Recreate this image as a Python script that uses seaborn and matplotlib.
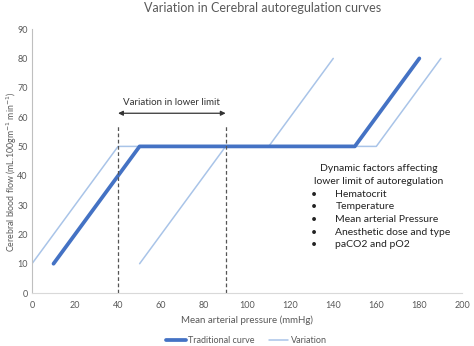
import matplotlib
matplotlib.use("Agg")
import matplotlib.pyplot as plt
import seaborn as sns
import pandas as pd
from matplotlib.lines import Line2D

# Data
trad_x = [10, 50, 150, 180]
trad_y = [10, 50, 50, 80]
var1_x = [0, 40, 110, 140]
var1_y = [10, 50, 50, 80]
var2_x = [50, 90, 160, 190]
var2_y = [10, 50, 50, 80]
limit_x = [40, 90]
x_ticks = list(range(0, 201, 20))
y_ticks = list(range(0, 91, 10))
factors = ["Hematocrit", "Temperature", "Mean arterial Pressure",
           "Anesthetic dose and type", "paCO2 and pO2"]

sns.set_theme(style="white")
plt.rcParams["font.family"] = ["Lato", "DejaVu Sans"]

TXT = "#595959"
TRAD = "#4472C4"
VAR = "#A9C4E8"

var_df = pd.DataFrame({
    "x": var1_x + var2_x,
    "y": var1_y + var2_y,
    "g": ["a"] * len(var1_x) + ["b"] * len(var2_x),
})
trad_df = pd.DataFrame({"x": trad_x, "y": trad_y})

fig = plt.figure(figsize=(4.74, 3.46), dpi=100)
ax = fig.add_axes([0.0675, 0.153, 0.908, 0.763])

sns.lineplot(data=var_df, x="x", y="y", units="g", estimator=None, sort=False,
             color=VAR, linewidth=1.1, ax=ax, legend=False)
sns.lineplot(data=trad_df, x="x", y="y", estimator=None, sort=False,
             color=TRAD, linewidth=2.7, ax=ax, legend=False)

for lx in limit_x:
    ax.plot([lx, lx], [0, 57], color="#555555", linestyle=(0, (3, 2)), linewidth=0.9)

ax.annotate("", xy=(limit_x[0], 61.3), xytext=(limit_x[1], 61.3),
            arrowprops=dict(arrowstyle="<|-|>", color="#333333", lw=0.9,
                            mutation_scale=7, shrinkA=0, shrinkB=0))
ax.text(65, 65, "Variation in lower limit", ha="center", va="center",
        fontsize=7, color="#333333")

ax.text(161, 42.3, "Dynamic factors affecting", ha="center", va="center",
        fontsize=7.5, color="#222222")
ax.text(161, 38.0, "lower limit of autoregulation", ha="center", va="center",
        fontsize=7.5, color="#222222")
for i, f in enumerate(factors):
    yy = 33.7 - 4.3 * i
    ax.text(131, yy, "\u2022", ha="center", va="center", fontsize=7.5, color="#222222")
    ax.text(141, yy, f, ha="left", va="center", fontsize=7.5, color="#222222")

ax.set_xlim(0, 200)
ax.set_ylim(0, 90)
ax.set_xticks(x_ticks)
ax.set_yticks(y_ticks)
ax.tick_params(axis="x", length=0, labelsize=6.5, labelcolor=TXT, pad=6)
ax.tick_params(axis="y", length=0, labelsize=6.5, labelcolor=TXT, pad=3)
ax.set_xlabel("Mean arterial pressure (mmHg)", fontsize=7, color=TXT, labelpad=4)
ax.set_ylabel("")
fig.text(0.024, 0.503, "Cerebral blood flow (mL.100gm$^{-1}$ min$^{-1}$)",
         rotation=90, ha="center", va="center", fontsize=6.3, color=TXT)
for s in ["top", "right"]:
    ax.spines[s].set_visible(False)
ax.spines["left"].set_color("#BFBFBF")
ax.spines["bottom"].set_color("#D9D9D9")
ax.spines["left"].set_linewidth(0.8)
ax.spines["bottom"].set_linewidth(0.8)

fig.text(0.553, 0.978, "Variation in Cerebral autoregulation curves", ha="center",
         va="center", fontsize=9, color=TXT)

handles = [Line2D([], [], color=TRAD, linewidth=2.7),
           Line2D([], [], color=VAR, linewidth=1.1)]
fig.legend(handles, ["Traditional curve", "Variation"], loc="center",
           bbox_to_anchor=(0.52, 0.015), ncol=2, frameon=False, fontsize=6.5,
           handlelength=2.2, columnspacing=1.5, handletextpad=0.3,
           labelcolor=TXT)

fig.savefig("out.png", dpi=100)
